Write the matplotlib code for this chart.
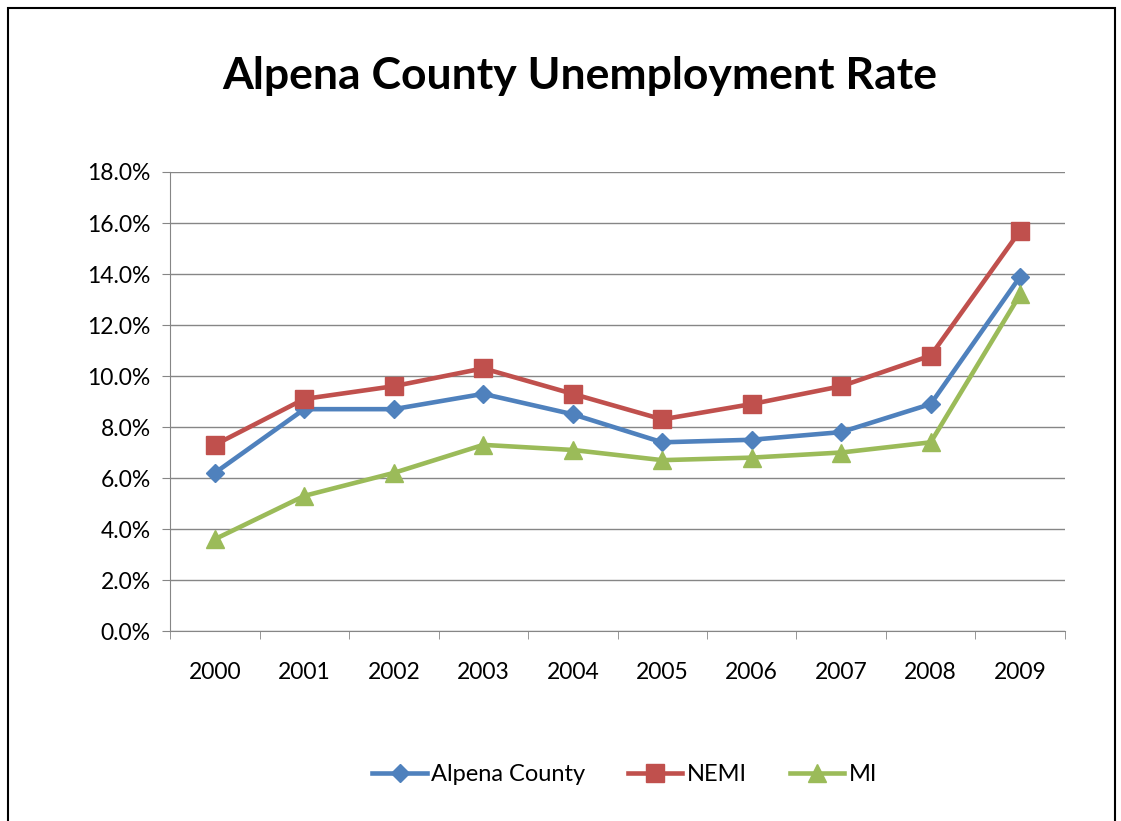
import matplotlib.pyplot as plt
from matplotlib.patches import Rectangle
from matplotlib.ticker import FuncFormatter, FixedLocator

years = ['2000', '2001', '2002', '2003', '2004', '2005', '2006', '2007', '2008', '2009']
alpena = [6.2, 8.7, 8.7, 9.3, 8.5, 7.4, 7.5, 7.8, 8.9, 13.9]
nemi = [7.3, 9.1, 9.6, 10.3, 9.3, 8.3, 8.9, 9.6, 10.8, 15.7]
mi = [3.6, 5.3, 6.2, 7.3, 7.1, 6.7, 6.8, 7.0, 7.4, 13.2]

plt.rcParams['font.family'] = ['Lato', 'DejaVu Sans']

fig = plt.figure(figsize=(11.21, 8.21), dpi=100)
ax = fig.add_axes([0.1517, 0.2314, 0.7983, 0.5591])

x = list(range(len(years)))
ax.plot(x, alpena, color='#4F81BD', lw=3.3, marker='D', ms=9.5, label='Alpena County', zorder=3)
ax.plot(x, nemi, color='#C0504D', lw=3.3, marker='s', ms=13, label='NEMI', zorder=3)
ax.plot(x, mi, color='#9BBB59', lw=3.3, marker='^', ms=13, label='MI', zorder=3)

ax.set_xlim(-0.5, 9.5)
ax.set_ylim(0, 18)
ax.set_yticks(range(0, 19, 2))
ax.yaxis.set_major_formatter(FuncFormatter(lambda v, p: '%.1f%%' % v))
ax.set_xticks(x)
ax.set_xticklabels(years)
ax.xaxis.set_minor_locator(FixedLocator([i - 0.5 for i in range(11)]))
ax.tick_params(axis='x', which='major', length=0, pad=22, labelsize=16.5)
ax.tick_params(axis='x', which='minor', length=6, color='#868686', direction='out')
ax.tick_params(axis='y', length=6, color='#868686', labelsize=16.5, pad=8)
ax.grid(axis='y', color='#868686', lw=1)
ax.set_axisbelow(True)
for s in ['top', 'right']:
    ax.spines[s].set_visible(False)
ax.spines['left'].set_color('#868686')
ax.spines['bottom'].set_color('#868686')

fig.text(0.517, 0.908, 'Alpena County Unemployment Rate', ha='center', va='center',
         fontsize=32, fontweight='bold')

ax.legend(loc='center', bbox_to_anchor=(0.508, -0.313), ncol=3, frameon=False,
          fontsize=17, handlelength=2.3, columnspacing=1.8, handletextpad=0.2)

fig.patches.append(Rectangle((0.007, -0.01), 0.988, 1.0, transform=fig.transFigure,
                             fill=False, edgecolor='black', lw=1.5))

fig.savefig('out.png', dpi=100)
